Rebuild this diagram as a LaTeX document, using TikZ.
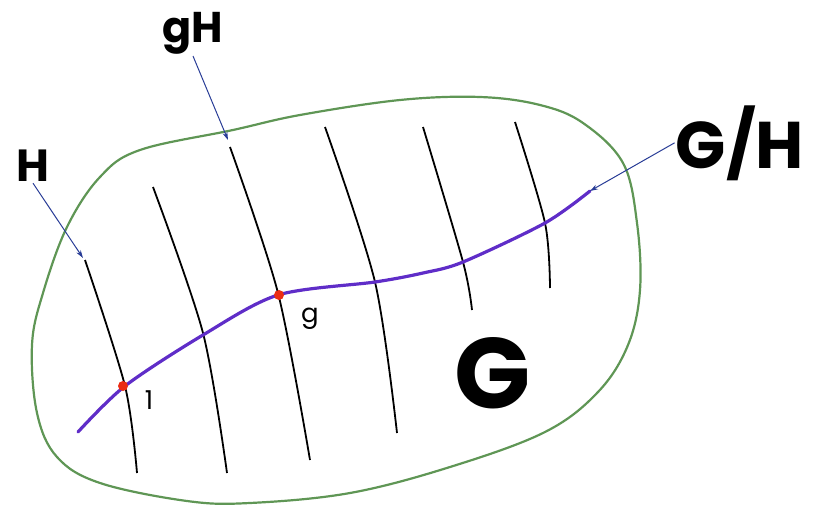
\documentclass[tikz,border=0pt]{standalone}
\usepackage{fontspec}
\setmainfont{Poppins}
\usetikzlibrary{arrows.meta}

\definecolor{blobgreen}{RGB}{95,150,85}
\definecolor{pathviolet}{RGB}{95,45,200}
\definecolor{arrowblue}{RGB}{40,60,150}
\definecolor{dotred}{RGB}{235,45,20}

\begin{document}
\begin{tikzpicture}[x=1pt, y=-1pt,
    fibre/.style={black, line width=1.8pt},
    section/.style={pathviolet, line width=3.2pt, line cap=round},
    pointer/.style={arrowblue, line width=1pt, -{Stealth[length=8pt,width=5pt]}},
    dot/.style={circle, fill=dotred, inner sep=0pt, minimum size=10pt},
    lab/.style={inner sep=1pt, font=\fontsize{#1}{#1}\selectfont\bfseries},
    smalllab/.style={inner sep=1pt, font=\fontsize{26}{26}\selectfont}]

    \useasboundingbox (0,0) rectangle (822,508);

    % the group G
    \draw[blobgreen, line width=2.2pt] plot[smooth cycle, tension=0.6] coordinates {
        (32,345) (43,293) (67,227) (100,177) (140,150) (233,130) (300,115)
        (400,100) (480,97) (540,105) (583,123) (623,163) (637,223) (640,290)
        (628,345) (598,392) (545,432) (450,467) (350,493) (250,503) (187,501)
        (100,483) (57,457) (37,413)};

    % cosets gH
    \foreach \xa/\ya/\xb/\yb/\xc/\yc in {85/260/125/386/137/473, 153/187/203/333/227/473,
        230/147/278/293/310/460, 325/127/375/282/397/433,
        423/127/463/262/472/310, 515/122/545/223/550/288}
        \draw[fibre] plot[smooth] coordinates {(\xa,\ya) (\xb,\yb) (\xc,\yc)};

    % section G/H
    \draw[section] plot[smooth] coordinates {(78,432) (125,386) (203,335) (278,295)
        (375,282) (423,273) (463,262) (545,223) (590,191)};

    % marked points
    \node[dot] (one) at (123,386) {};
    \node[dot] (gee) at (279,295) {};
    \node[smalllab, anchor=base] (lab1) at (149,409) {1};
    \node[smalllab, anchor=base] (labg) at (310,322) {g};

    % labels
    \node[lab=45, anchor=base] (labH) at (33,182) {H};
    \node[lab=43, anchor=base] (labgH) at (193,43) {gH};
    \node[lab=66, anchor=base] (labGH) at (740,168) {G/H};
    \node[lab=100] (labG) at (493,373) {G};

    \coordinate (Hend) at (83,258);
    \coordinate (gHend) at (228,140);
    \coordinate (GHend) at (590,191);

    \draw[pointer] (labH.south) -- (Hend);
    \draw[pointer] (labgH.south) -- (gHend);
    \draw[pointer] (labGH.west) -- (GHend);
\end{tikzpicture}
\end{document}
